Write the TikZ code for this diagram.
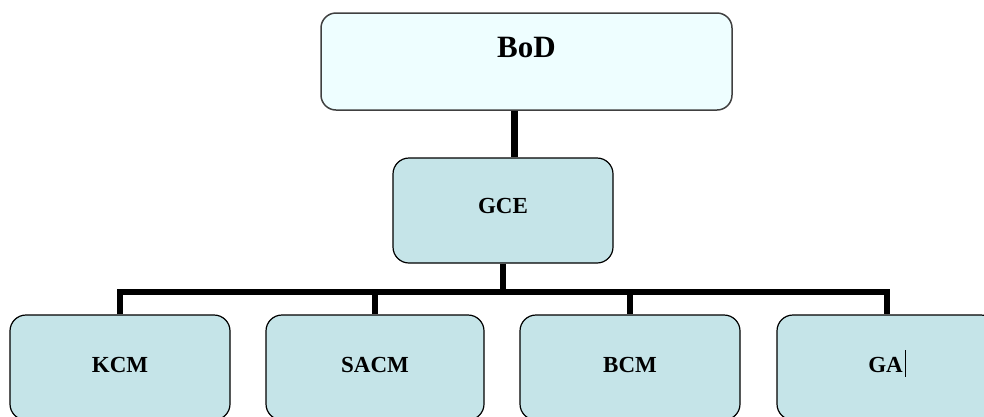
\documentclass[tikz,border=0pt]{standalone}
\usepackage{fontspec}
\setmainfont{Liberation Serif}
\usetikzlibrary{calc}
\definecolor{boardFill}{RGB}{238,254,255}
\definecolor{unitFill}{RGB}{197,228,232}
\definecolor{edgeGray}{gray}{0.25}

\tikzset{
    topBox/.style={draw=edgeGray, line width=1.5pt, fill=boardFill, rounded corners=15pt,
        minimum width=411pt, minimum height=97pt, inner sep=0pt,
        font=\fontsize{31}{36}\selectfont\bfseries, text height=21pt, text depth=30pt},
    unitBox/.style={draw=black, line width=1.2pt, fill=unitFill, rounded corners=16pt,
        minimum width=220pt, minimum height=105pt, inner sep=0pt,
        font=\fontsize{23}{27}\selectfont\bfseries, text height=15pt, text depth=5pt},
    link/.style={line width=6pt, black, line join=miter}
}

\begin{document}
\begin{tikzpicture}[x=1pt, y=-1pt]
    \clip (0,0) rectangle (984,416);

    \node[topBox] (bod) at (526.5,61.5) {BoD};
    \node[unitBox, text depth=10pt] (gce) at (503,210.5) {GCE};

    \node[unitBox] (kcm) at (120,367.5) {KCM};
    \node[unitBox, minimum width=218pt] (sacm) at (375,367.5) {SACM};
    \node[unitBox] (bcm) at (630,367.5) {BCM};
    \node[unitBox] (ga) at (887,367.5) {GA\hspace{2pt}\rule[-4pt]{1pt}{27pt}};

    \coordinate (bus) at (503,292);

    % lines between the levels
    \draw[link, line width=7pt] ([xshift=-12.5pt]bod.south) -- ([xshift=-12.5pt]bod.south |- gce.north);
    \draw[link] (gce.south) -- (bus);
    \draw[link] (kcm.north) -- (kcm.north |- bus) -- (ga.north |- bus) -- (ga.north);
    \foreach \u in {sacm, bcm}
        \draw[link] (\u.north |- bus) -- (\u.north);
\end{tikzpicture}
\end{document}
